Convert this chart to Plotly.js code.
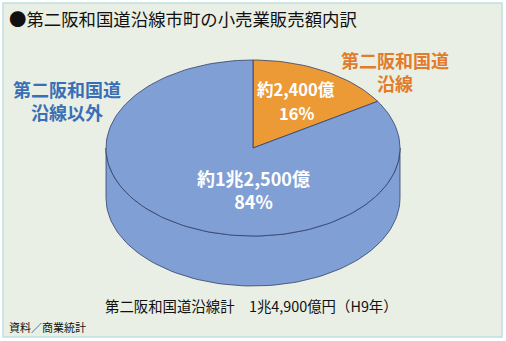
<!DOCTYPE html>
<html><head><meta charset="utf-8">
<script src="https://cdn.plot.ly/plotly-3.0.1.min.js"></script>
<style>html,body{margin:0;padding:0;background:#fff}#chart{width:506px;height:341px}</style>
</head><body><div id="chart"></div>
<script>
// ---- data ----
const categories = ["第二阪和国道沿線", "第二阪和国道沿線以外"];
const values = [2400, 12500];            // 億円
const valueLabels = ["約2,400億", "約1兆2,500億"];
const percents = ["16%", "84%"];
const sliceColors = ["#ec9a36", "#7f9fd5"];
const titleText = "●第二阪和国道沿線市町の小売業販売額内訳";
const totalText = "第二阪和国道沿線計　1兆4,900億円（H9年）";
const sourceText = "資料／商業統計";

// ---- geometry (pixels) ----
const cx = 253, cy = 148, rx = 147, ry = 88, depth = 50;
const edge = "#34406a";
const FONT = "Noto Sans CJK JP";

function pt(theta, dy) { // theta: degrees clockwise from top
  const r = theta * Math.PI / 180;
  return [cx + rx * Math.sin(r), cy - ry * Math.cos(r) + (dy || 0)];
}
function arc(a0, a1, dy) {
  const xs = [], ys = [];
  const n = Math.max(2, Math.ceil(Math.abs(a1 - a0) / 2));
  for (let i = 0; i <= n; i++) {
    const p = pt(a0 + (a1 - a0) * i / n, dy);
    xs.push(p[0]); ys.push(p[1]);
  }
  return [xs, ys];
}

const total = values.reduce((a, b) => a + b, 0);
const traces = [];
const starts = []; let acc = 0;
values.forEach(v => { starts.push(acc / total * 360); acc += v; });
const ends = values.map((v, i) => starts[i] + v / total * 360);

// side walls (front half, 90..270 deg) per slice
values.forEach((v, i) => {
  const a0 = Math.max(starts[i], 90), a1 = Math.min(ends[i], 270);
  if (a1 <= a0) return;
  const top = arc(a0, a1, 0), bot = arc(a1, a0, depth);
  traces.push({
    type: "scatter", mode: "lines", x: top[0].concat(bot[0], [top[0][0]]),
    y: top[1].concat(bot[1], [top[1][0]]), fill: "toself", fillcolor: sliceColors[i],
    line: { color: edge, width: 0.8 }, hoverinfo: "skip", showlegend: false
  });
});
// top faces
values.forEach((v, i) => {
  const a = arc(starts[i], ends[i], 0);
  traces.push({
    type: "scatter", mode: "lines", x: [cx].concat(a[0], [cx]), y: [cy].concat(a[1], [cy]),
    fill: "toself", fillcolor: sliceColors[i], line: { color: edge, width: 0.8 },
    name: categories[i], hoverinfo: "name", showlegend: false
  });
});

const ann = [
  { x: 8, y: 18, xanchor: "left", text: titleText, font: { size: 17.4, color: "#111" } },
  { x: 67, y: 100, text: categories[1].slice(0, 6) + "<br>" + categories[1].slice(6),
    font: { size: 18, color: "#3a6fb6", weight: "bold" } },
  { x: 395, y: 71, text: categories[0].slice(0, 6) + "<br>" + categories[0].slice(6),
    font: { size: 18, color: "#e27b2a", weight: "bold" } },
  { x: 296, y: 89, text: valueLabels[0], font: { size: 16.5, color: "#ffffff", weight: "bold" } },
  { x: 296, y: 113, text: percents[0], font: { size: 16.5, color: "#ffffff", weight: "bold" } },
  { x: 253, y: 189, text: valueLabels[1] + "<br>" + percents[1],
    font: { size: 18, color: "#ffffff", weight: "bold" } },
  { x: 251, y: 305, text: totalText, font: { size: 14.4, color: "#111" } },
  { x: 8, y: 327, xanchor: "left", text: sourceText, font: { size: 11, color: "#111" } }
].map(a => Object.assign({ xref: "x", yref: "y", showarrow: false, yanchor: "middle",
  align: "center", borderpad: 0 }, a, { font: Object.assign({ family: FONT }, a.font) }));

const layout = {
  width: 506, height: 341, margin: { l: 0, r: 0, t: 0, b: 0 },
  paper_bgcolor: "#ffffff", plot_bgcolor: "rgba(0,0,0,0)",
  xaxis: { range: [0, 506], visible: false, fixedrange: true },
  yaxis: { range: [341, 0], visible: false, fixedrange: true },
  shapes: [{ type: "rect", xref: "x", yref: "y", x0: 3, x1: 502, y0: 3, y1: 337,
    fillcolor: "#e9efe4", line: { color: "#bfdfe0", width: 1.5 }, layer: "below" }],
  annotations: ann, showlegend: false
};
Plotly.newPlot("chart", traces, layout, { staticPlot: true });
</script></body></html>
